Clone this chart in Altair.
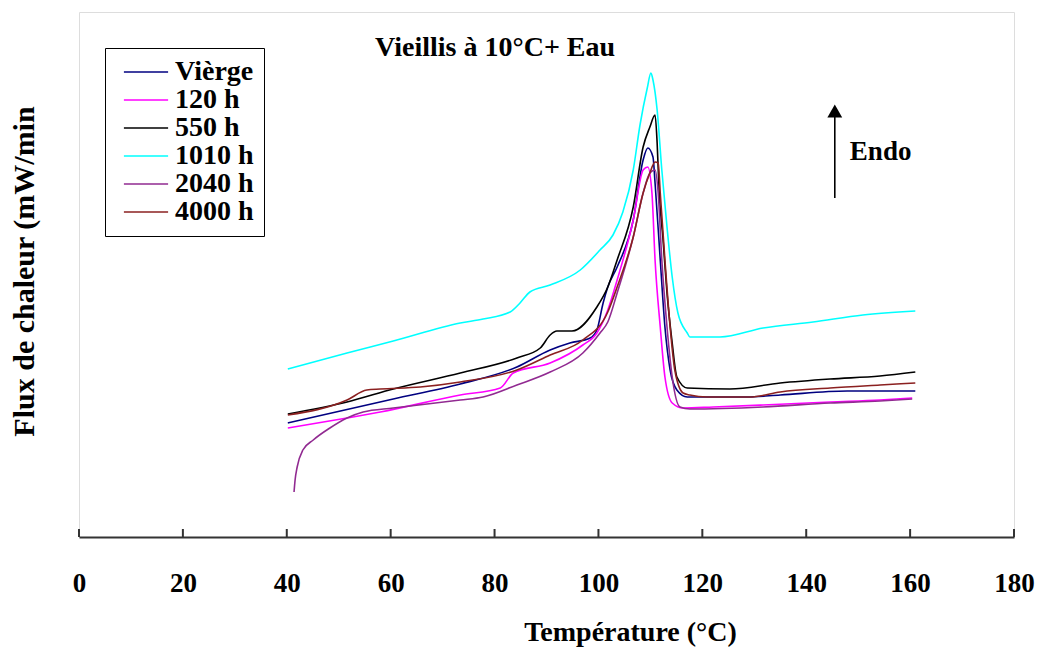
import altair as alt
import pandas as pd

# ---- data (heat flow in arbitrary units) ----
series_names = ["Vièrge", "120 h", "550 h", "1010 h", "2040 h", "4000 h"]
series_colors = ["#000080", "#ff00ff", "#000000", "#00ffff", "#912a91", "#8b2020"]

vierge_T = [40.2, 60.5, 73.4, 84.3, 90.7, 94.5, 98.4, 99.7, 100.9, 101.8, 103.6, 106.7, 108.6, 109.5,
            110.5, 110.9, 111.9, 112.8, 113.8, 115.1, 117.1, 128.6, 135.0, 147.9, 161.0]
vierge_F = [114, 138, 153, 170, 187, 194, 199, 207, 234, 250, 270, 317, 377, 389,
            380, 354, 277, 210, 167, 147, 140, 140, 142, 146, 146]

h120_T = [40.2, 51.6, 58.0, 73.4, 81.1, 83.6, 90.7, 97.0, 99.7, 101.8, 103.6, 106.7, 108.6, 109.5,
          110.3, 110.9, 111.9, 112.8, 114.2, 116.3, 122.1, 131.7, 144.6, 154.2, 160.4]
h120_F = [109, 119, 125, 142, 149, 164, 174, 192, 204, 227, 257, 317, 367, 370,
          344, 277, 210, 160, 134, 129, 130, 132, 135, 137, 139]

h550_T = [40.2, 51.6, 60.5, 73.4, 84.3, 88.8, 90.7, 92.0, 94.9, 99.7, 101.8, 103.6, 106.7, 108.6,
          109.9, 110.9, 111.3, 111.7, 112.4, 113.2, 114.2, 115.1, 117.1, 125.3, 135.0, 144.6, 154.2, 161.0]
h550_F = [123, 135, 148, 164, 179, 189, 202, 206, 206, 230, 250, 277, 330, 390,
          410, 422, 394, 344, 300, 244, 194, 160, 149, 148, 154, 158, 161, 165]

h1010_T = [40.2, 51.6, 60.5, 73.4, 77.8, 83.0, 84.9, 86.8, 90.7, 96.5, 100.3, 102.8, 104.7, 106.7,
           108.0, 109.4, 110.1, 110.5, 111.3, 112.2, 113.2, 114.2, 115.3, 117.1, 117.6, 123.4,
           131.7, 141.3, 150.9, 161.0]
h1010_F = [168, 184, 196, 214, 218, 225, 234, 245, 252, 267, 287, 302, 325, 367,
           412, 449, 464, 457, 427, 367, 310, 260, 224, 204, 200, 200,
           209, 215, 222, 226]

h2040_T = [41.4, 41.6, 42.0, 43.1, 45.1, 48.3, 51.6, 54.7, 60.5, 73.4, 77.8, 84.3, 90.7, 97.0,
           100.3, 101.8, 103.6, 106.7, 108.6, 109.9, 110.9, 111.5, 112.2, 113.2, 114.2, 115.7,
           117.6, 131.7, 144.6, 154.2, 160.4]
h2040_F = [45, 57, 70, 87, 97, 109, 119, 125, 129, 137, 140, 152, 165, 184,
           204, 215, 244, 300, 344, 364, 367, 344, 277, 210, 160, 130,
           128, 130, 134, 136, 138]

h4000_T = [40.2, 51.6, 55.4, 58.0, 65.7, 73.4, 84.3, 90.7, 97.0, 101.8, 103.6, 106.7, 108.6, 109.9,
           110.9, 111.5, 111.9, 112.8, 113.8, 114.7, 116.3, 117.6, 120.9, 129.2, 135.0, 144.6, 154.2, 161.0]
h4000_F = [122, 137, 147, 148, 150, 155, 167, 182, 197, 225, 250, 300, 344, 364,
           375, 374, 344, 277, 210, 167, 144, 142, 140, 140, 145, 149, 152, 154]

x_ticks = [0, 20, 40, 60, 80, 100, 120, 140, 160, 180]

title_text = "Vieillis à 10°C+ Eau"
title_pos = (80.1, 489)
endo_text = "Endo"
endo_pos = (148.4, 385)
arrow_T = 145.5
arrow_F = (339, 420)
arrow_head_F = 426

# ---- build table ----
all_T = [vierge_T, h120_T, h550_T, h1010_T, h2040_T, h4000_T]
all_F = [vierge_F, h120_F, h550_F, h1010_F, h2040_F, h4000_F]
rows = []
for name, Ts, Fs in zip(series_names, all_T, all_F):
    for i, (t, f) in enumerate(zip(Ts, Fs)):
        rows.append({"serie": name, "T": t, "F": f, "idx": i})
df = pd.DataFrame(rows)

FONT = "Liberation Serif"
W, H = 935, 525

xscale = alt.Scale(domain=[0, 180], nice=False, zero=False)
yscale = alt.Scale(domain=[0, 525], nice=False, zero=False)

lines = alt.Chart(df).mark_line(strokeWidth=1.6, clip=True, interpolate="monotone").encode(
    x=alt.X("T:Q", scale=xscale,
            axis=alt.Axis(values=x_ticks, ticks=False, grid=False, domainColor="#333333",
                          domainWidth=2, labelFont=FONT, labelFontWeight="bold", labelFontSize=27,
                          labelColor="black", labelPadding=33, labelFlush=False, labelOverlap=False,
                          title="Température (°C)", titleFont=FONT, titleFontWeight="bold",
                          titleFontSize=28, titleColor="black", titleX=551, titleY=95,
                          titleBaseline="middle")),
    y=alt.Y("F:Q", scale=yscale,
            axis=alt.Axis(labels=False, ticks=False, grid=False, domain=False,
                          title="Flux de chaleur (mW/min", titleFont=FONT, titleFontWeight="bold",
                          titleFontSize=30, titleColor="black", titleX=-55, titleY=259,
                          titleAngle=270, titleBaseline="middle")),
    color=alt.Color("serie:N", scale=alt.Scale(domain=series_names, range=series_colors),
                    sort=series_names,
                    legend=alt.Legend(title=None, orient="none", legendX=26, legendY=36,
                                      symbolType="M-1.7,0H1.7", symbolSize=676, symbolStrokeWidth=1.6,
                                      symbolOffset=17,
                                      labelFont=FONT, labelFontWeight="bold", labelFontSize=28,
                                      labelColor="black", strokeColor="black", padding=10,
                                      rowPadding=0, labelOffset=15)),
    order="idx:Q",
)

tick_df = pd.DataFrame({"t": x_ticks})
ticks = alt.Chart(tick_df).mark_rule(color="#333333", strokeWidth=2).encode(
    x=alt.X("t:Q", scale=xscale), y=alt.value(H - 8), y2=alt.value(H))

ann_df = pd.DataFrame({"T": [title_pos[0], endo_pos[0]], "F": [title_pos[1], endo_pos[1]],
                       "txt": [title_text, endo_text]})
title_mark = alt.Chart(ann_df.iloc[[0]]).mark_text(font=FONT, fontWeight="bold", fontSize=28,
                                                   color="black", align="center", baseline="middle").encode(
    x=alt.X("T:Q", scale=xscale), y=alt.Y("F:Q", scale=yscale), text="txt:N")
endo_mark = alt.Chart(ann_df.iloc[[1]]).mark_text(font=FONT, fontWeight="bold", fontSize=27,
                                                  color="black", align="left", baseline="middle").encode(
    x=alt.X("T:Q", scale=xscale), y=alt.Y("F:Q", scale=yscale), text="txt:N")

arrow_df = pd.DataFrame({"T": [arrow_T], "F1": [arrow_F[0]], "F2": [arrow_F[1]], "Fh": [arrow_head_F]})
arrow_line = alt.Chart(arrow_df).mark_rule(color="black", strokeWidth=1.6).encode(
    x=alt.X("T:Q", scale=xscale), y=alt.Y("F1:Q", scale=yscale), y2="F2:Q")
arrow_head = alt.Chart(arrow_df).mark_point(shape="triangle-up", filled=True, color="black",
                                            size=220, opacity=1).encode(
    x=alt.X("T:Q", scale=xscale), y=alt.Y("Fh:Q", scale=yscale))

chart = alt.layer(lines, ticks, title_mark, endo_mark, arrow_line, arrow_head).properties(
    width=W, height=H,
    autosize="none",
    padding={"left": 71, "top": 4, "right": 25, "bottom": 112},
).configure_view(stroke="#8a8a8a", strokeWidth=1.5).configure(background="white")

chart.save("out.html", embed_options={"renderer": "svg", "actions": False})
